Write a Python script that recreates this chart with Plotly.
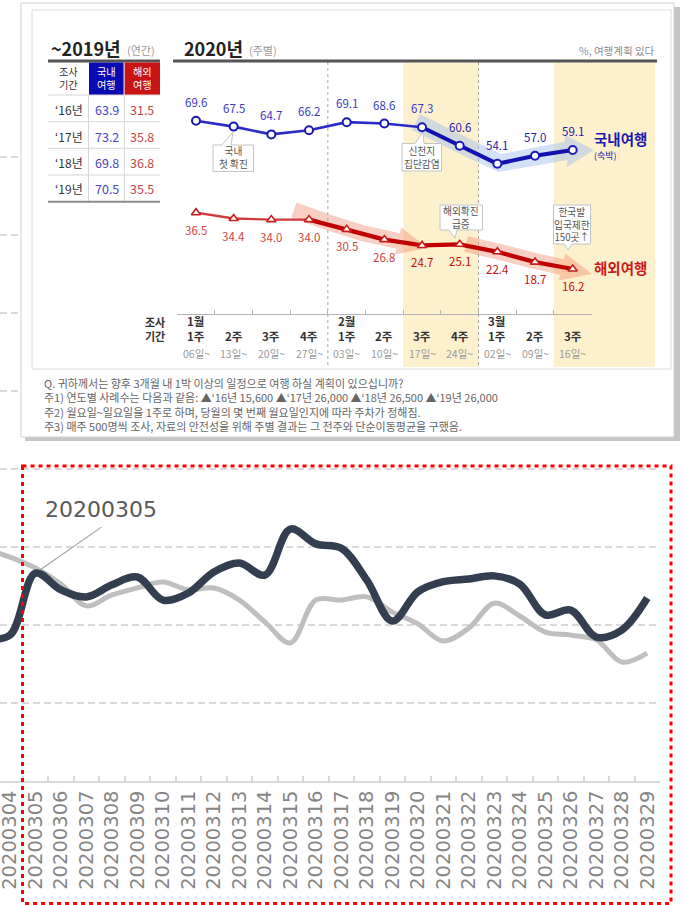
import math
import plotly.graph_objects as go

W, H = 684, 905
KR = "Noto Sans CJK KR"
LAT = "DejaVu Sans"

# ---------------- daily index (lower chart) ----------------
dates = ["20200303", "20200304", "20200305", "20200306", "20200307", "20200308",
         "20200309", "20200310", "20200311", "20200312", "20200313", "20200314",
         "20200315", "20200316", "20200317", "20200318", "20200319", "20200320",
         "20200321", "20200322", "20200323", "20200324", "20200325", "20200326",
         "20200327", "20200328", "20200329"]
series_dark = [36.5, 37.4, 53.3, 49.0, 47.2, 50.3, 52.3, 46.4, 48.2, 53.6, 55.9,
               52.8, 64.6, 60.8, 59.7, 51.5, 41.0, 48.5, 51.1, 51.8, 52.6, 50.5,
               42.6, 43.8, 36.9, 38.7, 46.9]
series_gray = [59.5, 57.4, 54.6, 50.5, 44.9, 47.7, 49.5, 51.0, 49.0, 49.5, 46.4,
               40.8, 35.4, 46.4, 46.4, 47.2, 43.3, 40.3, 35.9, 39.2, 45.6, 42.3,
               38.2, 37.4, 36.2, 30.5, 32.8]
highlight_date = "20200305"

# ---------------- weekly travel-plan survey (upper panel) ----------------
weeks = ["1월 1주", "1월 2주", "1월 3주", "1월 4주", "2월 1주", "2월 2주",
         "2월 3주", "2월 4주", "3월 1주", "3월 2주", "3월 3주"]
week_month = ["1월", "", "", "", "2월", "", "", "", "3월", "", ""]
week_no = ["1주", "2주", "3주", "4주", "1주", "2주", "3주", "4주", "1주", "2주", "3주"]
week_start = ["06일~", "13일~", "20일~", "27일~", "03일~", "10일~", "17일~",
              "24일~", "02일~", "09일~", "16일~"]
domestic_2020 = [69.6, 67.5, 64.7, 66.2, 69.1, 68.6, 67.3, 60.6, 54.1, 57.0, 59.1]
overseas_2020 = [36.5, 34.4, 34.0, 34.0, 30.5, 26.8, 24.7, 25.1, 22.4, 18.7, 16.2]

years = ["‘16년", "‘17년", "‘18년", "‘19년"]
domestic_year = [63.9, 73.2, 69.8, 70.5]
overseas_year = [31.5, 35.8, 36.8, 35.5]

notes = [
    "Q. 귀하께서는 향후 3개월 내 1박 이상의 일정으로 여행 하실 계획이 있으십니까?",
    "주1) 연도별 사례수는 다음과 같음: ▲‘16년 15,600 ▲‘17년 26,000 ▲‘18년 26,500 ▲‘19년 26,000",
    "주2) 월요일~일요일을 1주로 하며, 당월의 몇 번째 월요일인지에 따라 주차가 정해짐.",
    "주3) 매주 500명씩 조사, 자료의 안전성을 위해 주별 결과는 그 전주와 단순이동평균을 구했음.",
]

# ---------------- geometry (pixels) ----------------
MAIN_BOTTOM, MAIN_RIGHT = 781, 660
MAIN_PX_PER_UNIT = 624 / 160          # 20-unit gridlines every 78 px
Y_TOP = 160.4                         # a little headroom so the 160 gridline is kept
MAIN_TOP = MAIN_BOTTOM - Y_TOP * MAIN_PX_PER_UNIT
WK_X0, WK_DX = 196.0, 37.67          # centre of first week, week spacing
WK_ZERO_Y, WK_PX_PER_PCT = 314.0, 2.776


def wk_x(i):
    return WK_X0 + WK_DX * i


fig = go.Figure()

# lower chart lines
fig.add_trace(go.Scatter(x=dates, y=series_gray, mode="lines", xaxis="x", yaxis="y",
                         line=dict(color="#bfbfbf", width=5, shape="spline", smoothing=1.0),
                         hoverinfo="skip"))
fig.add_trace(go.Scatter(x=dates, y=series_dark, mode="lines", xaxis="x", yaxis="y",
                         line=dict(color="#333f50", width=7.5, shape="spline", smoothing=1.0),
                         hoverinfo="skip"))

# pixel canvas for the panel decorations
fig.add_trace(go.Scatter(x=[None], y=[None], xaxis="x2", yaxis="y2", mode="markers",
                         hoverinfo="skip"))

# weekly lines: thin for the early weeks, bold once the decline starts
SD, SO = 6, 3
fig.add_trace(go.Scatter(x=weeks[:SD + 1], y=domestic_2020[:SD + 1], xaxis="x3", yaxis="y3",
                         mode="lines", line=dict(color="#2b2bc6", width=2.6), hoverinfo="skip"))
fig.add_trace(go.Scatter(x=weeks[SD:], y=domestic_2020[SD:], xaxis="x3", yaxis="y3",
                         mode="lines", line=dict(color="#1212b0", width=4), hoverinfo="skip"))
fig.add_trace(go.Scatter(x=weeks[:SO + 1], y=overseas_2020[:SO + 1], xaxis="x3", yaxis="y3",
                         mode="lines", line=dict(color="#d03a3a", width=2.4), hoverinfo="skip"))
fig.add_trace(go.Scatter(x=weeks[SO:], y=overseas_2020[SO:], xaxis="x3", yaxis="y3",
                         mode="lines", line=dict(color="#c00000", width=4.2), hoverinfo="skip"))
fig.add_trace(go.Scatter(x=weeks, y=domestic_2020, xaxis="x3", yaxis="y3", mode="markers",
                         marker=dict(symbol="circle", size=8, color="white",
                                     line=dict(color="#1a1ab8", width=2)), hoverinfo="skip"))
fig.add_trace(go.Scatter(x=weeks, y=overseas_2020, xaxis="x3", yaxis="y3", mode="markers",
                         marker=dict(symbol="triangle-up", size=8, color="white",
                                     line=dict(color="#c81e1e", width=1.6)), hoverinfo="skip"))

# ---------------- shapes ----------------
shapes = []


def rect(x0, y0, x1, y1, fill="rgba(0,0,0,0)", line="rgba(0,0,0,0)", lw=0, layer="below", dash=None):
    ln = dict(color=line, width=lw)
    if dash:
        ln["dash"] = dash
    shapes.append(dict(type="rect", xref="x2", yref="y2", x0=x0, y0=y0, x1=x1, y1=y1,
                       fillcolor=fill, line=ln, layer=layer))


def seg(x0, y0, x1, y1, color, lw, dash=None, layer="below"):
    ln = dict(color=color, width=lw)
    if dash:
        ln["dash"] = dash
    shapes.append(dict(type="line", xref="x2", yref="y2", x0=x0, y0=y0, x1=x1, y1=y1,
                       line=ln, layer=layer))


def path(d, fill, line="rgba(0,0,0,0)", lw=0, layer="below"):
    shapes.append(dict(type="path", xref="x2", yref="y2", path=d, fillcolor=fill,
                       line=dict(color=line, width=lw), layer=layer))


def arrow_band(pts, hw, head_hw, tip):
    left, right = [], []
    n = len(pts)
    for i, (x, y) in enumerate(pts):
        if i == 0:
            dx, dy = pts[1][0] - x, pts[1][1] - y
        elif i == n - 1:
            dx, dy = x - pts[i - 1][0], y - pts[i - 1][1]
        else:
            dx, dy = pts[i + 1][0] - pts[i - 1][0], pts[i + 1][1] - pts[i - 1][1]
        L = math.hypot(dx, dy)
        nx, ny = -dy / L, dx / L
        left.append((x + nx * hw, y + ny * hw))
        right.append((x - nx * hw, y - ny * hw))
    x, y = pts[-1]
    dx, dy = tip[0] - x, tip[1] - y
    L = math.hypot(dx, dy)
    nx, ny = -dy / L, dx / L
    poly = left + [(x + nx * head_hw, y + ny * head_hw), tip,
                   (x - nx * head_hw, y - ny * head_hw)] + right[::-1]
    return "M " + " L ".join(f"{a:.1f},{b:.1f}" for a, b in poly) + " Z"


def bubble(x0, y0, x1, y1, a, b, tx, ty, side):
    if side == "top":
        d = (f"M {x0},{y0} L {a},{y0} L {tx},{ty} L {b},{y0} L {x1},{y0} "
             f"L {x1},{y1} L {x0},{y1} Z")
    else:
        d = (f"M {x0},{y0} L {x1},{y0} L {x1},{y1} L {b},{y1} L {tx},{ty} "
             f"L {a},{y1} L {x0},{y1} Z")
    path(d, "white", "#c4c4c4", 1)


# frame with drop shadow
rect(25, 7, 680, 441, fill="#c6c6c6")
rect(21, 3, 674, 437, fill="white", line="#d2d2d2", lw=1)
rect(32, 10, 671, 369, line="#dcdcdc", lw=1)

# highlighted weeks
rect(wk_x(5.5), 62.5, wk_x(7.5), 367, fill="#fdf0cd")
rect(wk_x(9.5), 62.5, 655, 367, fill="#fdf0cd")

# month separators
for b in (3.5, 7.5):
    seg(wk_x(b), 62, wk_x(b), 367, "#a6a6a6", 1, dash="3px,3px")

# title rules
seg(48, 61, 160, 61, "#555555", 3)
seg(173, 61, 657, 61, "#555555", 3)

# yearly table
rect(89, 62.5, 123.6, 95, fill="#0a0ab4")
rect(124.6, 62.5, 160, 95, fill="#c81414")
for yy in (95, 121.7, 148.3, 175):
    seg(48, yy, 160, yy, "#d6d6d6", 1)
for xx in (88.5, 124.3):
    seg(xx, 95, xx, 201, "#d6d6d6", 1)
seg(48, 201.7, 160, 201.7, "#8a8a8a", 2)

# trend arrows behind the weekly lines
path(arrow_band([(416, 122), (462, 145), (500, 163), (538, 156), (566, 151)], 9, 16, (594, 150)),
     "rgba(160,192,238,0.48)")
path(arrow_band([(294, 210), (330, 223), (362, 233), (398, 241)], 8, 14, (428, 248)),
     "rgba(240,135,105,0.40)")
path(arrow_band([(466, 244), (500, 252), (535, 261), (562, 267)], 8, 14, (592, 274)),
     "rgba(240,135,105,0.40)")

# call-out bubbles
bubble(213, 145, 253.5, 171.5, 222, 231, 233, 132, "top")
bubble(402, 143.5, 441.5, 171, 415, 424, 423, 132, "top")
bubble(440, 205, 482.5, 230, 449, 457, 455, 238, "bottom")
bubble(553.5, 205, 590.5, 244, 564, 572, 568, 250, "bottom")

# dotted highlight box around the lower chart
rect(22.5, 466, 671, 903.5, line="#ff0000", lw=3, layer="above", dash="4px,4px")

# ---------------- annotations ----------------
ann = []


def txt(x, y, text, size, color, anchor="center", family=KR, xref="x2", yref="y2",
        yshift=0):
    ann.append(dict(x=x, y=y, xref=xref, yref=yref, text=text, showarrow=False,
                    xanchor=anchor, yanchor="middle", yshift=yshift, align=anchor
                    if anchor in ("left", "right") else "center",
                    font=dict(family=family, size=size, color=color)))


txt(48.5, 48, "<b>~2019년</b>", 18, "#222222", "left")
txt(125, 50, "(연간)", 11, "#9a9a9a", "left")
txt(181.5, 48, "<b>2020년</b>", 18, "#222222", "left")
txt(247, 50, "(주별)", 11, "#9a9a9a", "left")
txt(657, 50, "%, 여행계획 있다", 10.5, "#8a8a8a", "right")

# two-line table headers
txt(68.5, 78, "조사<br>기간", 10.2, "#333333")
txt(106.3, 78, "국내<br>여행", 10.2, "white")
txt(142.3, 78, "해외<br>여행", 10.2, "white")

row_y = [109.3, 136, 162.7, 188.5]
for yl, dv, ov, ry in zip(years, domestic_year, overseas_year, row_y):
    txt(68.5, ry, yl, 12, "#333333")
    txt(106.7, ry, f"{dv:.1f}", 12.5, "#4747c9")
    txt(142.3, ry, f"{ov:.1f}", 12.5, "#c84646")

# week axis labels
txt(155, 329, "<b>조사<br>기간</b>", 11, "#333333")
for w, m, n_, s in zip(weeks, week_month, week_no, week_start):
    if m:
        txt(w, 328.3, f"<b>{m}<br>{n_}</b>", 11.5, "#333333", xref="x3")
    else:
        txt(w, 335.8, f"<b>{n_}</b>", 11.5, "#333333", xref="x3")
    txt(w, 353, s, 10.5, "#9a9a9a", xref="x3")

# weekly value labels
for i, (w, v) in enumerate(zip(weeks, domestic_2020)):
    txt(w, v, f"{v:.1f}", 11.5, "#3a3ac6" if i <= SD else "#1c1ca8",
        xref="x3", yref="y3", yshift=19)
for i, (w, v) in enumerate(zip(weeks, overseas_2020)):
    txt(w, v, f"{v:.1f}", 11.5, "#d04444" if i < SD else "#c41010",
        xref="x3", yref="y3", yshift=-17)

txt(592, 138, "<b>국내여행</b>", 14.5, "#1a1ab0", "left")
txt(592, 155, "(숙박)", 9, "#1a1ab0", "left")
txt(592, 267, "<b>해외여행</b>", 14.5, "#cc1a1a", "left")

# call-out texts
txt(233, 157, "국내<br>첫 확진", 9.7, "#555555")
txt(421.7, 157, "신천지<br>집단감염", 9.7, "#555555")
txt(461.3, 217.5, "해외확진<br>급증", 9.7, "#555555")
txt(572, 224.5, "한국발<br>입국제한<br>150곳↑", 9.7, "#555555")

# survey question and footnotes
txt(42, 404, "<br>".join(notes), 11, "#666666", "left")

# pointer to the highlighted day on the lower chart
hi = dates.index(highlight_date)
ann.append(dict(x=hi, y=series_dark[hi], xref="x", yref="y",
                text=highlight_date, showarrow=True, arrowhead=0, arrowwidth=1.2,
                arrowcolor="#a6a6a6", ax=66, ay=-46, standoff=6, borderpad=4,
                xanchor="center", yanchor="bottom",
                font=dict(family=LAT, size=22, color="#595959")))

fig.update_layout(
    width=W, height=H,
    margin=dict(l=0, r=0, t=0, b=0, pad=0, autoexpand=False),
    paper_bgcolor="white", plot_bgcolor="rgba(0,0,0,0)",
    showlegend=False, hovermode=False,
    shapes=shapes, annotations=ann,
    xaxis=dict(domain=[0, MAIN_RIGHT / W], anchor="y", type="category",
               categoryorder="array", categoryarray=dates, range=[0.61, 26.5],
               tickson="boundaries", ticks="inside", ticklen=5, tickwidth=1.5,
               tickcolor="#d9d9d9", showline=True, linecolor="#d9d9d9", linewidth=1.5,
               showgrid=False, zeroline=False, tickangle=-90,
               tickfont=dict(family=LAT, size=19.5, color="#858585"),
               automargin=False, fixedrange=True),
    yaxis=dict(domain=[(H - MAIN_BOTTOM) / H, (H - MAIN_TOP) / H], anchor="x",
               range=[0, Y_TOP], dtick=20, tick0=0, showgrid=True, gridcolor="#d9d9d9",
               gridwidth=1.5, griddash="7px,4px", showticklabels=False, ticks="",
               zeroline=False, showline=False, automargin=False, fixedrange=True),
    xaxis2=dict(domain=[0, 1], anchor="y2", range=[0, W], visible=False, fixedrange=True),
    yaxis2=dict(domain=[0, 1], anchor="x2", range=[H, 0], visible=False, fixedrange=True),
    xaxis3=dict(domain=[wk_x(-0.5) / W, wk_x(10.5) / W], anchor="y3", type="category",
                categoryorder="array", categoryarray=weeks, range=[-0.5, 10.5],
                tickson="boundaries", ticks="inside", ticklen=4, tickwidth=1,
                tickcolor="#b4b4b4", showline=True, linecolor="#b4b4b4", linewidth=1,
                showgrid=False, zeroline=False, showticklabels=False,
                automargin=False, fixedrange=True),
    yaxis3=dict(domain=[(H - WK_ZERO_Y) / H, (H - (WK_ZERO_Y - 100 * WK_PX_PER_PCT)) / H],
                anchor="x3", range=[0, 100], visible=False, fixedrange=True),
)

fig.write_html("out.html")
